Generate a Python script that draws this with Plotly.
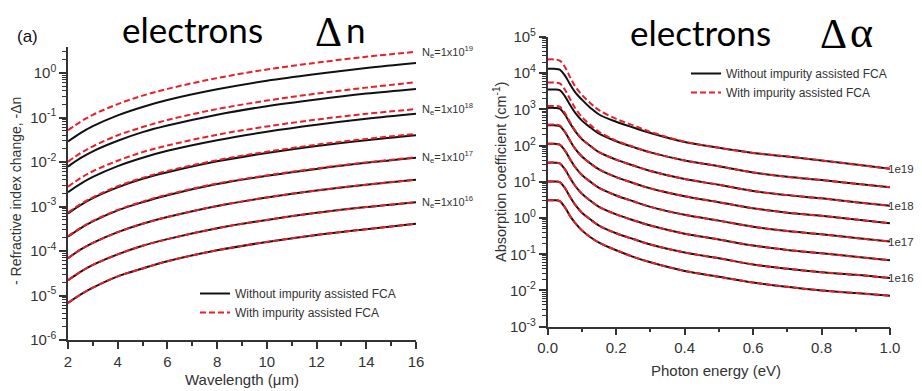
import math
import plotly.graph_objects as go

# ---------------- Left panel: refractive index change vs wavelength ----------------
wavelength_um = [2, 2.5, 3, 4, 5, 6, 8, 10, 12, 14, 16]

dn_wo_1 = [0.029, 0.0448, 0.064, 0.112, 0.173, 0.247, 0.43, 0.67, 0.95, 1.29, 1.67]
dn_w_1 = [0.052, 0.080, 0.115, 0.20, 0.31, 0.44, 0.77, 1.2, 1.71, 2.32, 3.0]
dn_wo_2 = [0.0079, 0.0122, 0.0174, 0.030, 0.047, 0.066, 0.116, 0.18, 0.255, 0.345, 0.44]
dn_w_2 = [0.0102, 0.0158, 0.0225, 0.040, 0.061, 0.088, 0.155, 0.24, 0.345, 0.47, 0.62]
dn_wo_3 = [0.0021, 0.00324, 0.00463, 0.0081, 0.0125, 0.0179, 0.031, 0.048, 0.069, 0.094, 0.122]
dn_w_3 = [0.0028, 0.00433, 0.0062, 0.0107, 0.0167, 0.0235, 0.041, 0.063, 0.09, 0.121, 0.155]
dn_wo_4 = [7.0e-4, 1.08e-3, 1.55e-3, 2.7e-3, 4.2e-3, 5.9e-3, 1.04e-2, 1.6e-2, 2.3e-2, 3.1e-2, 4.0e-2]
dn_w_4 = [7.3e-4, 1.13e-3, 1.61e-3, 2.85e-3, 4.4e-3, 6.3e-3, 1.1e-2, 1.7e-2, 2.45e-2, 3.3e-2, 4.3e-2]
dn_wo_5 = [2.1e-4, 3.24e-4, 4.63e-4, 8.2e-4, 1.25e-3, 1.8e-3, 3.2e-3, 4.9e-3, 7.0e-3, 9.6e-3, 1.25e-2]
dn_w_5 = [2.15e-4, 3.32e-4, 4.75e-4, 8.4e-4, 1.29e-3, 1.85e-3, 3.3e-3, 5.0e-3, 7.2e-3, 9.8e-3, 1.28e-2]
dn_wo_6 = [6.9e-5, 1.07e-4, 1.52e-4, 2.65e-4, 4.1e-4, 5.8e-4, 1.03e-3, 1.6e-3, 2.3e-3, 3.1e-3, 4.0e-3]
dn_w_6 = [6.9e-5, 1.07e-4, 1.52e-4, 2.65e-4, 4.1e-4, 5.8e-4, 1.03e-3, 1.6e-3, 2.3e-3, 3.1e-3, 4.0e-3]
dn_wo_7 = [2.2e-5, 3.4e-5, 4.86e-5, 8.4e-5, 1.31e-4, 1.85e-4, 3.25e-4, 5.0e-4, 7.2e-4, 9.7e-4, 1.25e-3]
dn_w_7 = [2.2e-5, 3.4e-5, 4.86e-5, 8.4e-5, 1.31e-4, 1.85e-4, 3.25e-4, 5.0e-4, 7.2e-4, 9.7e-4, 1.25e-3]
dn_wo_8 = [6.8e-6, 1.05e-5, 1.5e-5, 2.7e-5, 4.05e-5, 5.9e-5, 1.04e-4, 1.6e-4, 2.3e-4, 3.1e-4, 4.1e-4]
dn_w_8 = [6.8e-6, 1.05e-5, 1.5e-5, 2.7e-5, 4.05e-5, 5.9e-5, 1.04e-4, 1.6e-4, 2.3e-4, 3.1e-4, 4.1e-4]

dn_without = [dn_wo_1, dn_wo_2, dn_wo_3, dn_wo_4, dn_wo_5, dn_wo_6, dn_wo_7, dn_wo_8]
dn_with = [dn_w_1, dn_w_2, dn_w_3, dn_w_4, dn_w_5, dn_w_6, dn_w_7, dn_w_8]

dn_label_curves = [0, 2, 4, 6]
dn_label_texts = ["N<sub>e</sub>=1x10<sup>19</sup>", "N<sub>e</sub>=1x10<sup>18</sup>",
                  "N<sub>e</sub>=1x10<sup>17</sup>", "N<sub>e</sub>=1x10<sup>16</sup>"]

# ---------------- Right panel: absorption coefficient vs photon energy ----------------
energy_ev = [0, 0.02, 0.035, 0.05, 0.065, 0.08, 0.1, 0.125, 0.15, 0.2, 0.25, 0.3,
             0.4, 0.5, 0.6, 0.7, 0.8, 0.9, 1.0]

da_wo_1 = [13200, 13200, 12600, 8700, 5000, 3020, 1860, 1100, 724, 457, 316, 224, 126, 87, 63, 50, 39, 30, 23]
da_w_1 = [24000, 24000, 22400, 15100, 7900, 4370, 2510, 1480, 955, 550, 363, 240, 129, 87, 63, 50, 39, 30, 23]
da_wo_2 = [3550, 3550, 3390, 2340, 1350, 813, 490, 316, 214, 132, 91, 65, 39, 27, 18.2, 13.8, 11.2, 8.9, 7.1]
da_w_2 = [5500, 5500, 5250, 3550, 1950, 1100, 617, 372, 240, 138, 93, 65, 39, 27, 18.2, 13.8, 11.2, 8.9, 7.1]
da_wo_3 = [1100, 1100, 1050, 724, 417, 251, 151, 98, 66, 41, 28.2, 20, 12, 8.3, 5.6, 4.3, 3.5, 2.75, 2.2]
da_w_3 = [1240, 1240, 1190, 800, 450, 265, 155, 98, 66, 41, 28.2, 20, 12, 8.3, 5.6, 4.3, 3.5, 2.75, 2.2]
da_wo_4 = [363, 363, 347, 240, 138, 83, 50, 32, 22, 13.5, 9.3, 6.6, 4.0, 2.75, 1.86, 1.41, 1.15, 0.91, 0.72]
da_w_4 = [380, 380, 360, 245, 139, 83, 50, 32, 22, 13.5, 9.3, 6.6, 4.0, 2.75, 1.86, 1.41, 1.15, 0.91, 0.72]
da_wo_5 = [112, 112, 107, 74, 43, 25.7, 15.5, 10, 6.8, 4.2, 2.9, 2.04, 1.23, 0.85, 0.575, 0.437, 0.355, 0.282, 0.224]
da_w_5 = [112, 112, 107, 74, 43, 25.7, 15.5, 10, 6.8, 4.2, 2.9, 2.04, 1.23, 0.85, 0.575, 0.437, 0.355, 0.282, 0.224]
da_wo_6 = [33.9, 33.9, 32.4, 22.4, 12.9, 7.8, 4.7, 3.0, 2.04, 1.26, 0.87, 0.62, 0.37, 0.257, 0.174, 0.132, 0.107, 0.085, 0.068]
da_w_6 = [33.9, 33.9, 32.4, 22.4, 12.9, 7.8, 4.7, 3.0, 2.04, 1.26, 0.87, 0.62, 0.37, 0.257, 0.174, 0.132, 0.107, 0.085, 0.068]
da_wo_7 = [10.2, 10.2, 9.8, 6.8, 3.9, 2.34, 1.41, 0.91, 0.62, 0.38, 0.263, 0.186, 0.112, 0.078, 0.052, 0.040, 0.032, 0.027, 0.022]
da_w_7 = [10.2, 10.2, 9.8, 6.8, 3.9, 2.34, 1.41, 0.91, 0.62, 0.38, 0.263, 0.186, 0.112, 0.078, 0.052, 0.040, 0.032, 0.027, 0.022]
da_wo_8 = [3.1, 3.1, 2.95, 2.0, 1.15, 0.74, 0.457, 0.295, 0.209, 0.129, 0.085, 0.060, 0.0347, 0.024, 0.0166, 0.0126, 0.0100, 0.0085, 0.0072]
da_w_8 = [3.1, 3.1, 2.95, 2.0, 1.15, 0.74, 0.457, 0.295, 0.209, 0.129, 0.085, 0.060, 0.0347, 0.024, 0.0166, 0.0126, 0.0100, 0.0085, 0.0072]

da_without = [da_wo_1, da_wo_2, da_wo_3, da_wo_4, da_wo_5, da_wo_6, da_wo_7, da_wo_8]
da_with = [da_w_1, da_w_2, da_w_3, da_w_4, da_w_5, da_w_6, da_w_7, da_w_8]

da_label_curves = [0, 2, 4, 6]
da_label_texts = ["1e19", "1e18", "1e17", "1e16"]

# ---------------- styling ----------------
# the page body has an 8px margin, so the figure is drawn offset by (8, 8) in the window
OX, OY = 8, 8
W, H = 914, 383


def px(x):
    return (x - OX) / W


def py(y):
    return 1 - (y - OY) / H


BLACK = "#111111"
RED = "#e8202a"
AXC = "#333333"
TXT = "#333333"
FONT = "Liberation Sans, Arial, sans-serif"
LEG_WO = "Without impurity assisted FCA"
LEG_W = "With impurity assisted FCA"

fig = go.Figure()

for i, ys in enumerate(dn_without):
    fig.add_trace(go.Scatter(x=wavelength_um, y=ys, mode="lines", line=dict(color=BLACK, width=2, shape="spline"),
                             name=LEG_WO, showlegend=(i == 0), legend="legend", xaxis="x", yaxis="y"))
for i, ys in enumerate(dn_with):
    fig.add_trace(go.Scatter(x=wavelength_um, y=ys, mode="lines",
                             line=dict(color=RED, width=2, dash="6px,3px", shape="spline"),
                             name=LEG_W, showlegend=(i == 0), legend="legend", xaxis="x", yaxis="y"))
for i, ys in enumerate(da_without):
    fig.add_trace(go.Scatter(x=energy_ev, y=ys, mode="lines", line=dict(color=BLACK, width=2, shape="spline"),
                             name=LEG_WO, showlegend=(i == 0), legend="legend2", xaxis="x2", yaxis="y2"))
for i, ys in enumerate(da_with):
    fig.add_trace(go.Scatter(x=energy_ev, y=ys, mode="lines",
                             line=dict(color=RED, width=2, dash="6px,3px", shape="spline"),
                             name=LEG_W, showlegend=(i == 0), legend="legend2", xaxis="x2", yaxis="y2"))


def log_minor(lo, hi):
    return [m * 10 ** e for e in range(lo, hi) for m in range(2, 10)]


def sup_labels(lo, hi):
    return [f"10<sup>{e}</sup>" for e in range(lo, hi + 1)]


common_axis = dict(showline=True, linecolor=AXC, linewidth=1.5, ticks="outside", ticklen=7,
                   tickwidth=1.5, tickcolor=AXC, showgrid=False, zeroline=False, mirror=False,
                   automargin=False, tickfont=dict(family=FONT, size=15, color=TXT))

fig.update_layout(
    width=W, height=H, margin=dict(l=0, r=0, t=0, b=0, autoexpand=False),
    paper_bgcolor="white", plot_bgcolor="white",
    xaxis=dict(domain=[px(68), px(416)], range=[2, 16], tickvals=[2, 4, 6, 8, 10, 12, 14, 16],
               minor=dict(tickvals=[3, 5, 7, 9, 11, 13, 15], ticks="outside", ticklen=4, tickcolor=AXC, tickwidth=1.5),
               anchor="y", **common_axis),
    yaxis=dict(domain=[py(340), py(47)], type="log", range=[-6, 0.585],
               tickvals=[10 ** e for e in range(-6, 1)], ticktext=sup_labels(-6, 0),
               minor=dict(tickvals=log_minor(-6, 1), ticks="outside", ticklen=4, tickcolor=AXC, tickwidth=1),
               anchor="x", **common_axis),
    xaxis2=dict(domain=[px(547.7), px(890)], range=[0, 1], tickvals=[0, 0.2, 0.4, 0.6, 0.8, 1.0],
                tickformat=".1f",
                minor=dict(tickvals=[0.1, 0.3, 0.5, 0.7, 0.9], ticks="outside", ticklen=4, tickcolor=AXC, tickwidth=1.5),
                anchor="y2", **common_axis),
    yaxis2=dict(domain=[py(326.7), py(37)], type="log", range=[-3, 5],
                tickvals=[10 ** e for e in range(-3, 6)], ticktext=sup_labels(-3, 5),
                minor=dict(tickvals=log_minor(-3, 5), ticks="outside", ticklen=4, tickcolor=AXC, tickwidth=1),
                anchor="x2", **common_axis),
    legend=dict(x=px(195), y=py(279), xanchor="left", yanchor="top", bgcolor="rgba(0,0,0,0)",
                font=dict(family=FONT, size=12, color=TXT), tracegroupgap=0, itemwidth=30),
    legend2=dict(x=px(686), y=py(59), xanchor="left", yanchor="top", bgcolor="rgba(0,0,0,0)",
                 font=dict(family=FONT, size=12, color=TXT), tracegroupgap=0, itemwidth=30),
    showlegend=True,
)

ann = []
# curve labels (left panel)
for idx, txt in zip(dn_label_curves, dn_label_texts):
    ann.append(dict(x=wavelength_um[-1], y=math.log10(dn_with[idx][-1]), xref="x", yref="y", text=txt,
                    showarrow=False, xanchor="left", yanchor="middle", xshift=4,
                    font=dict(family=FONT, size=11, color=TXT)))
# curve labels (right panel) - kept inside the visible right edge
for idx, txt in zip(da_label_curves, da_label_texts):
    ann.append(dict(x=px(916), y=math.log10(da_without[idx][-1]), xref="paper", yref="y2",
                    text=txt, showarrow=False, xanchor="right", yanchor="middle",
                    font=dict(family=FONT, size=11.5, color=TXT)))

# axis titles
ann.append(dict(x=px(16), y=py(191), xref="paper", yref="paper", text="- Refractive index change, -\u0394n",
                textangle=-90, showarrow=False, xanchor="center", yanchor="middle",
                font=dict(family=FONT, size=14, color=TXT)))
ann.append(dict(x=px(242), y=py(379), xref="paper", yref="paper", text="Wavelength (\u03bcm)",
                showarrow=False, xanchor="center", yanchor="middle", font=dict(family=FONT, size=15, color=TXT)))
ann.append(dict(x=px(500), y=py(172), xref="paper", yref="paper", text="Absorption coefficient (cm<sup>-1</sup>)",
                textangle=-90, showarrow=False, xanchor="center", yanchor="middle",
                font=dict(family=FONT, size=14.5, color=TXT)))
ann.append(dict(x=px(716), y=py(370), xref="paper", yref="paper", text="Photon energy (eV)",
                showarrow=False, xanchor="center", yanchor="middle", font=dict(family=FONT, size=15, color=TXT)))

# panel label and headings
ann.append(dict(x=px(27), y=py(36), xref="paper", yref="paper", text="(a)", showarrow=False,
                xanchor="center", yanchor="middle", font=dict(family=FONT, size=17, color="#111111")))
HEAD = "Lato, Carlito, Calibri, sans-serif"
SERIF = "Liberation Serif, Times New Roman, serif"
ann.append(dict(x=px(192.5), y=py(29), xref="paper", yref="paper", text="electrons", showarrow=False,
                xanchor="center", yanchor="middle", font=dict(family=HEAD, size=35, color="#000000")))
ann.append(dict(x=px(344), y=py(32), xref="paper", yref="paper", text="\u0394", showarrow=False,
                xanchor="right", yanchor="middle", font=dict(family=SERIF, size=42, color="#000000")))
ann.append(dict(x=px(344), y=py(29), xref="paper", yref="paper", text="n", showarrow=False,
                xanchor="left", yanchor="middle", font=dict(family=HEAD, size=35, color="#000000")))
ann.append(dict(x=px(700), y=py(32), xref="paper", yref="paper", text="electrons", showarrow=False,
                xanchor="center", yanchor="middle", font=dict(family=HEAD, size=35, color="#000000")))
ann.append(dict(x=px(849), y=py(34), xref="paper", yref="paper", text="\u0394", showarrow=False,
                xanchor="right", yanchor="middle", font=dict(family=SERIF, size=42, color="#000000")))
ann.append(dict(x=px(848), y=py(33), xref="paper", yref="paper", text="\u03b1", showarrow=False,
                xanchor="left", yanchor="middle", font=dict(family=SERIF, size=44, color="#000000")))

fig.update_layout(annotations=ann)
fig.write_html("out.html")
